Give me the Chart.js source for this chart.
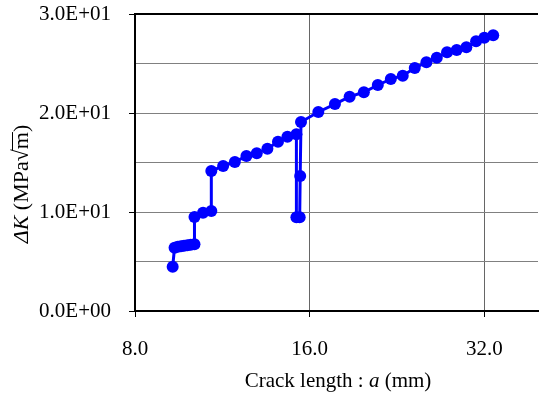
<!DOCTYPE html>
<html>
<head>
<meta charset="utf-8">
<script src="https://cdn.jsdelivr.net/npm/chart.js@4"></script>
<style>
  body { margin: 0; background: #fff; overflow: hidden; }
</style>
</head>
<body>
<!-- a few px wider than the window: chart.js keeps ~5px at the right, the plot runs off the edge in the original -->
<canvas id="crackChart" width="544" height="394"></canvas>
<script>
// data
const crackLength = [9.29, 9.36, 9.48, 9.6, 9.72, 9.85, 9.98, 10.13, 10.13, 10.48,
    10.83, 10.83, 11.35, 11.89, 12.45, 12.97, 13.53, 14.11, 14.65, 15.18,
    15.18, 15.38, 15.41, 15.46, 16.56, 17.69, 18.75, 19.84, 20.97, 22.08,
    23.15, 24.28, 25.43, 26.5, 27.6, 28.68, 29.8, 30.97, 32.0, 33.15];
const deltaK = [4.47, 6.4, 6.5, 6.55, 6.6, 6.65, 6.7, 6.75, 9.5, 9.93,
    10.1, 14.14, 14.65, 15.05, 15.66, 15.93, 16.4, 17.1, 17.6, 17.85,
    9.46, 9.46, 13.64, 19.09, 20.1, 20.9, 21.65, 22.09, 22.83, 23.43,
    23.77, 24.55, 25.12, 25.59, 26.13, 26.36, 26.63, 27.24, 27.6, 27.85];

const xTicks = [8, 16, 32];
const yStep = 5;
const yLabelStep = 10;

const FONT = "'Liberation Serif', 'Times New Roman', serif";

function sci(v) {
    if (v === 0) return "0.0E+00";
    const e = Math.floor(Math.log10(v));
    return (v / Math.pow(10, e)).toFixed(1) + "E+" + String(e).padStart(2, "0");
}

// axis titles (mixed italic) + top frame line
const titles = {
    id: "titles",
    afterDraw(chart) {
        const ctx = chart.ctx;
        const area = chart.chartArea;
        ctx.save();

        // top border
        ctx.strokeStyle = "#000";
        ctx.lineWidth = 2;
        ctx.beginPath();
        ctx.moveTo(area.left - 1, area.top);
        ctx.lineTo(area.right, area.top);
        ctx.stroke();

        ctx.fillStyle = "#000";
        ctx.textBaseline = "middle";
        ctx.textAlign = "left";

        // x title
        const normal = "21px " + FONT;
        const italic = "italic 21px " + FONT;
        const xParts = [["Crack length : ", normal], ["a", italic], [" (mm)", normal]];
        let w = 0;
        xParts.forEach(p => { ctx.font = p[1]; w += ctx.measureText(p[0]).width; });
        let x = 338 - w / 2;
        xParts.forEach(p => {
            ctx.font = p[1];
            ctx.fillText(p[0], x, 381);
            x += ctx.measureText(p[0]).width;
        });

        // y title, rotated
        const yNormal = "22px " + FONT;
        const yItalic = "italic 22px " + FONT;
        ctx.translate(22, 184);
        ctx.rotate(-Math.PI / 2);
        const yParts = [["\u0394K", yItalic], [" (MPa", yNormal], ["\u221A", yNormal], ["m", yNormal], [")", yNormal]];
        w = 0;
        yParts.forEach(p => { ctx.font = p[1]; w += ctx.measureText(p[0]).width; });
        x = -w / 2;
        yParts.forEach(p => {
            ctx.font = p[1];
            const pw = ctx.measureText(p[0]).width;
            ctx.fillText(p[0], x, 0);
            if (p[0] === "m") {
                ctx.lineWidth = 1;
                ctx.beginPath();
                ctx.moveTo(x - 1, -9.5);
                ctx.lineTo(x + pw, -9.5);
                ctx.stroke();
            }
            x += pw;
        });
        ctx.restore();
    }
};

const points = crackLength.map((a, i) => ({ x: a, y: deltaK[i] }));

new Chart(document.getElementById("crackChart"), {
    type: "scatter",
    data: {
        datasets: [{
            data: points,
            showLine: true,
            borderColor: "#0000ff",
            backgroundColor: "#0000ff",
            borderWidth: 3,
            pointRadius: 6,
            pointBorderWidth: 0,
            pointBackgroundColor: "#0000ff"
        }]
    },
    options: {
        responsive: false,
        animation: false,
        devicePixelRatio: 1,
        layout: { padding: { top: 14, right: 0, left: 0, bottom: 0 } },
        plugins: { legend: { display: false }, tooltip: { enabled: false } },
        scales: {
            x: {
                type: "logarithmic",
                min: 8,
                max: 39.6,
                afterBuildTicks: s => { s.ticks = xTicks.map(v => ({ value: v })); },
                afterFit: s => {
                    s.height = 83;
                    s.paddingLeft = 0;
                    s.paddingRight = 0;
                },
                ticks: {
                    callback: v => Number(v).toFixed(1),
                    font: { family: FONT, size: 21 },
                    color: "#000",
                    padding: 20,
                    maxRotation: 0
                },
                grid: { color: "#666", lineWidth: 1, tickLength: 6, tickColor: "#000" },
                border: { color: "#000", width: 2 }
            },
            y: {
                min: 0,
                max: 30,
                afterFit: s => {
                    s.width = 135;
                    s.paddingTop = 0;
                    s.paddingBottom = 0;
                },
                ticks: {
                    stepSize: yStep,
                    callback: v => (v % yLabelStep === 0 ? sci(v) : ""),
                    font: { family: FONT, size: 21 },
                    color: "#000",
                    padding: 18
                },
                grid: {
                    color: "#808080",
                    lineWidth: 1,
                    tickLength: 6,
                    tickColor: c => (c.tick && c.tick.value % yLabelStep === 0 ? "#000" : "rgba(0,0,0,0)")
                },
                border: { color: "#000", width: 2 }
            }
        }
    },
    plugins: [titles]
});
</script>
</body>
</html>
